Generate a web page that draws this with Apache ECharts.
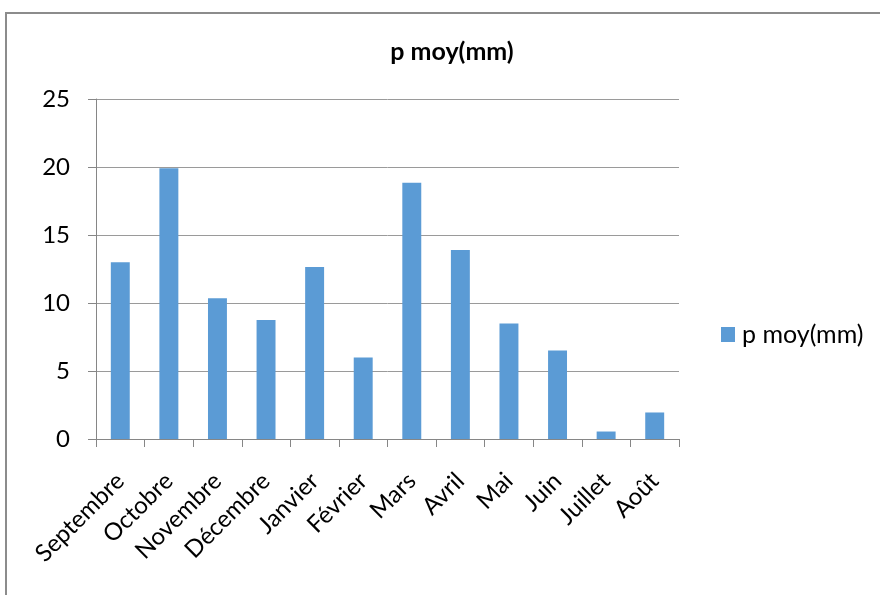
<!DOCTYPE html>
<html><head><meta charset="utf-8">
<script src="https://cdn.jsdelivr.net/npm/echarts@6/dist/echarts.min.js"></script>
<style>html,body{margin:0;padding:0;background:#fff}#c{width:880px;height:595px}</style>
</head><body><div id="c"></div>
<script>
const months = ['Septembre','Octobre','Novembre','Décembre','Janvier','Février','Mars','Avril','Mai','Juin','Juillet','Août'];
const pMoy = [13.0, 19.9, 10.35, 8.75, 12.65, 6.0, 18.85, 13.9, 8.5, 6.5, 0.55, 1.95];
const seriesName = 'p moy(mm)';
const yTicks = [0, 5, 10, 15, 20, 25];

const FONT = 'Lato, "Open Sans", sans-serif';
const chart = echarts.init(document.getElementById('c'), null, {renderer: 'canvas'});
chart.setOption({
  animation: false,
  backgroundColor: '#fff',
  graphic: [{
    type: 'rect', shape: {x: 6, y: 13, width: 900, height: 620},
    style: {fill: 'none', stroke: '#8c8c8c', lineWidth: 2}, silent: true, z: -1
  }],
  title: {
    text: seriesName, left: 452, top: 39, textAlign: 'center', padding: 0,
    textStyle: {fontFamily: FONT, fontWeight: 'bold', fontSize: 25, color: '#000'}
  },
  legend: {
    data: [seriesName], left: 721, top: 322, orient: 'vertical', padding: 0,
    icon: 'rect', itemWidth: 14, itemHeight: 15, itemGap: 6,
    textStyle: {fontFamily: FONT, fontSize: 25, color: '#000', padding: [0, 0, 0, 2]}
  },
  grid: {left: 96, right: 201, top: 99, bottom: 156, outerBoundsMode: 'none'},
  xAxis: {
    type: 'category', data: months,
    axisLine: {lineStyle: {color: '#868686', width: 1}},
    axisTick: {show: true, length: 8, alignWithLabel: false, lineStyle: {color: '#868686'}},
    axisLabel: {rotate: 45, fontFamily: FONT, fontSize: 24, color: '#000', margin: 38, interval: 0}
  },
  yAxis: {
    type: 'value', min: yTicks[0], max: yTicks[yTicks.length - 1], interval: 5,
    axisLine: {show: true, lineStyle: {color: '#868686', width: 1}},
    axisTick: {show: true, inside: false, length: 8, lineStyle: {color: '#868686'}},
    splitLine: {lineStyle: {color: '#9a9a9a', width: 1}},
    axisLabel: {fontFamily: FONT, fontSize: 24, color: '#000', margin: 26}
  },
  series: [{
    name: seriesName, type: 'bar', data: pMoy, barCategoryGap: '61%',
    itemStyle: {color: '#5b9bd5'}
  }]
});
</script></body></html>
